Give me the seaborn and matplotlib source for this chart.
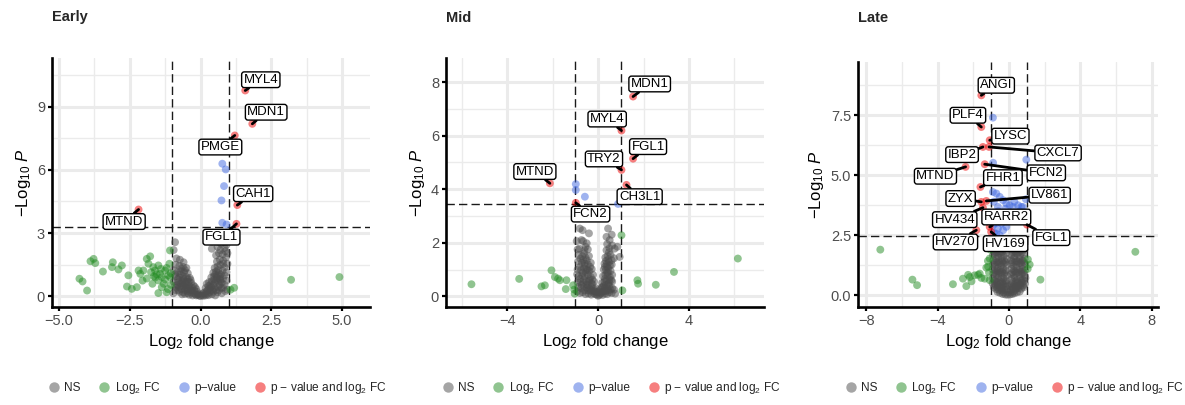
import matplotlib
matplotlib.use("Agg")
import matplotlib.pyplot as plt
from matplotlib.lines import Line2D
import seaborn as sns
import pandas as pd

# ---------------- DATA ----------------
panel_titles = ["Early", "Mid", "Late"]
group_names = ["NS", "Log2 FC", "p-value", "p - value and log2 FC"]

# Early
early_ns = [(0.00,0.02),(0.05,0.06),(-0.05,0.04),(0.10,0.03),(-0.10,0.08),(0.18,0.05),(-0.18,0.10),(0.28,0.06),(-0.28,0.05),(-0.40,0.08),(0.40,0.10),(0.52,0.05),(-0.55,0.12),
    (0.12,0.18),(-0.12,0.22),(0.22,0.25),(-0.22,0.28),(0.32,0.2),(-0.34,0.18),(0.45,0.22),(-0.46,0.25),(0.6,0.2),(-0.62,0.2),(0.75,0.15),(-0.75,0.22),(0.88,0.25),(-0.88,0.3),(0.95,0.32),(-0.96,0.15),
    (0.18,0.4),(-0.2,0.45),(0.28,0.5),(-0.3,0.42),(0.38,0.45),(-0.4,0.5),(0.5,0.4),(-0.52,0.42),(0.62,0.45),(-0.64,0.5),(0.74,0.4),(-0.76,0.45),(0.85,0.55),(-0.9,0.5),
    (0.3,0.68),(-0.33,0.65),(0.4,0.72),(-0.42,0.7),(0.5,0.62),(-0.55,0.62),(0.62,0.7),(-0.68,0.72),(0.75,0.65),(-0.8,0.68),(-0.95,0.7),(0.92,0.75),
    (0.38,0.9),(-0.38,0.88),(0.48,0.95),(-0.5,0.92),(0.58,0.88),(-0.62,0.95),(0.7,0.92),(-0.75,0.9),(-0.88,0.95),(0.85,1.0),
    (0.45,1.12),(-0.45,1.1),(0.55,1.18),(-0.58,1.15),(0.65,1.1),(-0.7,1.2),(0.78,1.22),(-0.82,1.15),(-0.95,1.25),(0.92,1.15),
    (0.5,1.35),(-0.5,1.35),(0.6,1.42),(-0.62,1.4),(0.7,1.5),(-0.75,1.45),(0.85,1.38),(-0.88,1.5),(0.95,1.55),
    (0.58,1.65),(-0.6,1.62),(0.68,1.75),(-0.73,1.74),(0.8,1.7),(0.9,1.85),(-0.85,1.8),
    (0.55,1.95),(0.65,2.05),(0.78,2.0),(0.88,2.15),(0.95,2.05),(-0.95,2.2),
    (0.4,2.26),(0.6,2.35),(0.72,2.5),(0.85,2.3),(0.92,2.45),(-0.9,2.57),(0.7,2.2),
    (-0.15,0.35),(0.25,0.12),(-0.3,0.28),(-0.48,0.35),(-0.68,0.35),(-0.82,0.55),(-0.6,0.78),(-0.45,0.82),(0.55,0.78),(0.68,0.82),(0.45,0.55),(-0.72,1.05),(-0.55,1.25),(0.62,1.25),
    (-0.08,0.12),(0.08,0.14),(-0.15,0.05),(0.15,0.1),(-0.25,0.15),(0.25,0.3),(-0.35,0.3),(0.35,0.32),(-0.45,0.15),(0.42,0.3),(-0.55,0.3),(0.55,0.3),(-0.65,0.1),(0.65,0.3),
    (-0.7,0.6),(0.68,0.55),(-0.85,0.42),(0.8,0.42),(-0.5,0.55),(0.48,0.8),(-0.58,0.5),(0.58,1.0),(-0.65,0.62),(-0.8,0.82),(0.8,0.85),(-0.9,1.05),(0.72,1.05),(-0.68,1.3),
    (0.8,1.55),(-0.78,0.3),(-0.42,0.4),(0.3,0.38),(-0.25,0.52),(0.22,0.6),(-0.35,0.78),(0.35,0.55),(-0.5,0.7),(0.52,1.05),(-0.62,0.85),(0.7,0.75)]
early_fc = [(-4.28,0.84),(-4.17,0.71),(-4.01,0.28),(-3.89,1.67),(-3.78,1.78),(-3.72,1.58),(-3.45,1.18),(-3.10,1.62),(-3.13,1.39),(-2.90,1.28),(-2.78,1.47),(-2.55,1.0),(-2.60,0.47),(-2.43,0.36),(-2.25,0.44),(-2.19,1.23),(-2.13,1.07),(-2.02,1.23),(-1.90,1.78),(-1.84,1.55),(-1.78,1.90),(-1.67,1.39),(-1.61,1.23),(-1.49,1.47),(-1.43,1.07),(-1.49,0.76),(-1.37,0.92),(-1.25,1.23),(-1.14,1.0),(-1.08,0.92),(-1.37,0.44),(-1.49,0.16),(-1.20,0.20),(-1.08,2.18),(-1.3,0.6),(-1.6,0.9),(-1.7,0.6),(-1.9,0.85),(-2.05,0.75),(-1.15,0.35),(-1.05,0.55),(-1.25,0.8),(-1.55,1.05),(-1.2,1.35),(-1.75,1.15),(-1.1,1.55),(-1.4,1.3),(-1.05,1.1),(-1.65,0.95),(1.06,0.32),(1.19,0.41),(3.20,0.79),(4.91,0.92)]
early_p = [(0.77,6.29),(0.89,6.02),(0.83,5.23),(0.74,4.55),(0.77,3.49),(0.92,3.41)]
early_both = [(1.58,9.76),(1.83,8.18),(1.21,7.63),(1.30,4.33),(1.27,3.44),(-2.19,4.12)]
early_genes = ["MYL4","MDN1","PMGE","CAH1","FGL1","MTND"]
early_pcut = 3.28

# Mid
mid_ns = [(0,0.02),(0.06,0.05),(-0.06,0.06),(0.12,0.1),(-0.12,0.08),(0.2,0.05),(-0.2,0.12),(0.3,0.1),(-0.3,0.06),(0.4,0.08),(-0.42,0.1),(0.5,0.15),(-0.55,0.08),(0.6,0.12),(-0.68,0.15),(-0.8,0.12),(-0.92,0.18),(0.75,0.1),
    (0.1,0.25),(-0.1,0.3),(0.2,0.35),(-0.2,0.28),(0.3,0.3),(-0.3,0.35),(0.4,0.32),(-0.4,0.3),(0.5,0.38),(-0.5,0.32),(0.62,0.3),(-0.62,0.35),(-0.75,0.3),(-0.88,0.35),(0.7,0.25),
    (0.18,0.5),(-0.18,0.55),(0.28,0.55),(-0.3,0.5),(0.38,0.6),(-0.4,0.58),(0.48,0.52),(-0.52,0.55),(0.58,0.6),(-0.65,0.5),(-0.78,0.55),(-0.9,0.52),
    (0.22,0.75),(-0.22,0.8),(0.32,0.8),(-0.32,0.72),(0.42,0.78),(-0.45,0.8),(0.52,0.72),(-0.58,0.75),(-0.7,0.78),(-0.85,0.75),(0.62,0.8),
    (0.25,1.0),(-0.28,1.02),(0.35,0.98),(-0.38,0.95),(0.45,1.05),(-0.5,1.0),(0.55,0.95),(-0.62,1.05),(-0.75,0.98),(-0.9,1.0),
    (0.28,1.22),(-0.32,1.25),(0.38,1.2),(-0.45,1.2),(0.48,1.28),(-0.58,1.22),(-0.72,1.25),(0.6,1.18),(-0.88,1.3),
    (0.32,1.45),(-0.4,1.5),(0.42,1.5),(-0.55,1.45),(0.55,1.55),(-0.7,1.5),(-0.85,1.55),(0.7,1.42),
    (0.37,1.72),(-0.45,1.75),(0.5,1.8),(-0.6,1.72),(0.73,1.78),(-0.82,1.78),(0.95,1.47),
    (0.4,1.95),(-0.5,1.98),(0.51,2.1),(-0.66,2.06),(-0.73,2.1),(-0.94,2.06),(0.37,2.22),(0.85,1.85),
    (-0.8,2.53),(-0.68,2.47),(0.44,2.53),(-0.4,2.35),(0.6,2.3),
    (-0.15,0.18),(0.15,0.15),(-0.35,0.2),(0.35,0.2),(-0.6,0.22),(0.55,0.25),(-0.25,0.62),(0.25,0.4),(-0.45,0.42),(0.45,0.45),(-0.55,0.9),(0.4,0.88),(-0.65,1.35),(0.35,1.32),
    (-0.05,0.15),(0.05,0.18),(-0.18,0.2),(0.22,0.18),(-0.28,0.22),(0.3,0.2),(-0.45,0.22),(0.45,0.22),(-0.5,0.45),(0.35,0.42),(-0.72,0.42),(0.5,0.62),(-0.38,0.65),
    (0.3,0.65),(-0.8,0.65),(0.62,0.55),(-0.68,0.88),(0.45,0.9),(-0.45,0.98),(0.52,1.15),(-0.8,1.1),(0.4,1.1),(-0.6,1.15),(-0.5,1.35),(0.45,1.38),(-0.78,1.4),
    (0.6,1.35),(-0.62,1.6),(0.48,1.65),(-0.9,1.75),(-0.55,1.85),(0.62,1.9),(-0.35,1.1),(0.3,1.1),(-0.25,0.45),(0.15,0.32),(-0.62,0.62),(-0.92,0.82)]
mid_fc = [(-5.57,0.45),(-3.47,0.65),(-2.49,0.37),(-2.34,0.41),(-2.05,0.97),(-1.90,0.72),(-1.76,0.66),(-1.68,0.60),(-1.39,0.60),(-1.42,0.27),(-1.1,0.41),(-1.03,0.1),(-1.05,0.25),(1.03,2.28),(1.07,0.22),(1.73,0.60),(1.76,0.47),(2.54,0.43),(3.34,0.91),(6.15,1.41)]
mid_p = [(-0.98,4.19),(-0.98,3.97),(-0.58,3.72),(0.88,3.45)]
mid_both = [(1.54,7.46),(1.03,6.19),(1.54,5.14),(1.03,4.72),(-2.12,4.22),(1.25,4.16),(-0.98,3.49)]
mid_genes = ["MDN1","MYL4","FGL1","TRY2","MTND","CH3L1","FCN2"]
mid_pcut = 3.45

# Late
late_ns = [(-0.5,0.1),(-0.35,0.05),(-0.2,0.03),(-0.08,0.02),(0.05,0.03),(0.18,0.05),(0.3,0.08),(0.45,0.12),(0.6,0.15),(-0.65,0.14),
    (-0.85,0.32),(-0.7,0.25),(-0.55,0.22),(-0.4,0.2),(-0.25,0.22),(-0.12,0.25),(0.1,0.22),(0.22,0.28),(0.38,0.24),(0.52,0.3),(0.68,0.27),(0.82,0.33),
    (-0.92,0.5),(-0.78,0.45),(-0.62,0.42),(-0.48,0.48),(-0.33,0.44),(-0.18,0.5),(0.15,0.46),(0.3,0.42),(0.45,0.5),(0.6,0.45),(0.75,0.52),(0.9,0.48),
    (-0.9,0.7),(-0.75,0.65),(-0.6,0.72),(-0.45,0.66),(-0.3,0.7),(-0.15,0.62),(0.15,0.68),(0.3,0.74),(0.45,0.64),(0.62,0.7),(0.78,0.66),(0.92,0.72),
    (-0.88,0.9),(-0.72,0.85),(-0.58,0.92),(-0.42,0.86),(-0.27,0.9),(-0.12,0.82),(0.12,0.88),(0.28,0.84),(0.42,0.93),(0.58,0.86),(0.72,0.9),(0.88,0.84),
    (-0.92,1.08),(-0.78,1.02),(-0.62,1.12),(-0.48,1.05),(-0.32,1.1),(-0.18,1.04),(0.14,1.1),(0.28,1.03),(0.44,1.12),(0.6,1.06),(0.76,1.1),(0.9,1.04),
    (-0.9,1.28),(-0.75,1.22),(-0.6,1.3),(-0.45,1.24),(-0.3,1.32),(-0.15,1.25),(0.12,1.3),(0.26,1.22),(0.42,1.28),(0.58,1.34),(0.74,1.24),(0.9,1.3),
    (-0.88,1.45),(-0.72,1.52),(-0.58,1.42),(-0.42,1.5),(-0.26,1.44),(-0.12,1.52),(0.12,1.46),(0.28,1.54),(0.44,1.42),(0.6,1.5),(0.75,1.45),(0.88,1.52),
    (-0.9,1.66),(-0.75,1.72),(-0.6,1.62),(-0.45,1.7),(-0.3,1.64),(-0.15,1.74),(0.14,1.68),(0.3,1.62),(0.46,1.72),(0.62,1.66),(0.8,1.7),
    (-0.85,1.85),(-0.68,1.9),(-0.52,1.82),(-0.36,1.92),(-0.2,1.86),(0.16,1.9),(0.32,1.84),(0.5,1.92),(0.66,1.86),(0.85,1.9),
    (-0.8,2.05),(-0.6,2.12),(-0.4,2.02),(-0.22,2.1),(0.2,2.04),(0.38,2.14),(0.55,2.06),(0.72,2.12),
    (-0.8,0.4),(-0.65,0.32),(-0.5,0.35),(-0.35,0.32),(-0.2,0.35),(0.2,0.35),(0.35,0.34),(0.5,0.38),(0.65,0.4),(0.8,0.4),
    (-0.82,0.6),(-0.68,0.55),(-0.52,0.58),(-0.38,0.55),(-0.22,0.58),(0.22,0.56),(0.38,0.58),(0.52,0.55),(0.7,0.6),(0.85,0.6),
    (-0.8,0.95),(-0.65,1.0),(-0.5,0.95),(-0.38,0.98),(-0.22,0.95),(0.2,0.96),(0.35,0.98),(0.52,0.96),(0.68,0.98),(0.82,0.95),
    (-0.82,1.35),(-0.68,1.38),(-0.52,1.36),(-0.38,1.4),(-0.2,1.38),(0.2,1.38),(0.35,1.4),(0.52,1.4),(0.68,1.36),(0.82,1.4),
    (-0.82,1.78),(-0.68,1.8),(-0.52,1.76),(-0.38,1.8),(0.22,1.78),(0.38,1.76),(0.55,1.8),(0.72,1.78),(-0.7,2.0),(-0.5,1.98),(0.3,1.98),(0.62,1.98),
    (-0.1,0.4),(0.08,0.38),(-0.05,0.12),(0.1,0.12),(-0.3,0.12),(0.25,0.15),(-0.45,0.3),(0.42,0.3)]
late_fc = [(-7.21,1.90),(-5.41,0.65),(-5.15,0.42),(-3.14,0.46),(-2.58,0.69),(-2.39,0.38),(-2.2,0.76),(-2.29,0.85),(-2.1,0.58),(-1.92,0.83),(-1.73,0.85),(-1.64,0.90),(-1.55,0.72),(-1.36,0.69),(-1.27,1.15),(-1.17,1.19),(-1.08,0.63),(-1.08,1.53),(-1.18,1.43),(-1.05,1.9),(-1.12,0.95),(1.06,1.49),(1.16,1.28),(1.05,1.1),(1.76,0.65),(7.08,1.81)]
late_p = [(-0.9,7.4),(-0.89,5.52),(0.97,5.65),(-0.71,4.24),(-0.52,4.10),(-0.33,3.96),(-0.15,3.82),(0.04,3.75),(0.22,3.68),(0.51,3.75),(0.69,3.68),(-0.62,3.68),(-0.71,3.40),(-0.52,3.19),(-0.43,2.99),(-0.62,2.78),(-0.33,2.71),(-0.71,2.57),(-0.52,2.5),(-0.80,3.13),(-0.15,2.85),(0.78,3.68),(-0.9,4.3),(-0.85,3.9),(-0.75,3.0),(-0.6,3.5),(-0.4,3.4),(-0.9,2.9),(-0.85,2.6),(0.3,3.9),(0.6,3.5),(-0.2,3.6),(0.95,4.0)]
late_both = [(-1.55,8.33),(-1.55,7.01),(-1.08,6.46),(-1.46,6.18),(-1.12,6.18),(-2.43,5.35),(-1.36,5.46),(-1.60,4.51),(-1.27,3.93),(-1.55,3.89),(-1.46,3.65),(-1.08,2.85),(1.01,2.94),(-1.83,2.71),(-1.0,2.64)]
late_genes = ["ANGI","PLF4","LYSC","IBP2","CXCL7","MTND","FCN2","FHR1","LV861","ZYX","HV434","RARR2","FGL1","HV270","HV169"]
late_pcut = 2.46

fc_cut = 1.0

# ---------------- LAYOUT ----------------
label_pos = {
    "Early": [(2.13,10.27),(2.32,8.73),(0.70,7.08),(1.86,4.87),(0.74,2.81),(-2.70,3.55)],
    "Mid": [(2.27,7.93),(0.40,6.62),(2.20,5.59),(0.26,5.13),(-2.78,4.66),(1.83,3.72),(-0.33,3.07)],
    "Late": [(-0.71,8.75),(-2.30,7.50),(0.08,6.63),(-2.63,5.86),(2.75,5.93),(-4.12,4.96),(2.09,5.10),
             (-0.34,4.90),(2.28,4.17),(-2.71,4.03),(-3.04,3.15),(-0.15,3.26),(2.37,2.40),(-3.0,2.22),(-0.19,2.15)],
}
W, H = 1185, 405
axes_px = {"Early": (52, 58, 370, 307), "Mid": (446, 58, 764, 307), "Late": (858, 62, 1158, 307)}
limits = {
    "Early": dict(xlim=(-5.25, 5.99), ylim=(-0.5, 11.3), xt=[-5, -2.5, 0, 2.5, 5], xfmt="{:.1f}",
                  yt=[0, 3, 6, 9], yfmt="{:.0f}", xm=[-3.75, -1.25, 1.25, 3.75], ym=[1.5, 4.5, 7.5, 10.5]),
    "Mid": dict(xlim=(-6.69, 7.3), ylim=(-0.4, 8.9), xt=[-4, 0, 4], xfmt="{:.0f}",
                yt=[0, 2, 4, 6, 8], yfmt="{:.0f}", xm=[-6, -2, 2, 6], ym=[1, 3, 5, 7]),
    "Late": dict(xlim=(-8.46, 8.35), ylim=(-0.49, 9.72), xt=[-8, -4, 0, 4, 8], xfmt="{:.0f}",
                 yt=[0, 2.5, 5, 7.5], yfmt="{:.1f}", xm=[-6, -2, 2, 6], ym=[1.25, 3.75, 6.25, 8.75]),
}
palette = {"NS": "#4D4D4D", "Log2 FC": "#228B22", "p-value": "#4169E1", "p - value and log2 FC": "#EE0000"}

sns.set_theme(style="white")
plt.rcParams["font.family"] = ["Liberation Sans", "DejaVu Sans"]
plt.rcParams["mathtext.fontset"] = "custom"
plt.rcParams["mathtext.rm"] = "Liberation Sans"
plt.rcParams["mathtext.it"] = "Liberation Sans:italic"
plt.rcParams["mathtext.bf"] = "Liberation Sans:bold"

fig = plt.figure(figsize=(W / 100, H / 100), dpi=100)
fig.patch.set_facecolor("white")

panels = {
    "Early": (early_ns, early_fc, early_p, early_both, early_genes, early_pcut),
    "Mid": (mid_ns, mid_fc, mid_p, mid_both, mid_genes, mid_pcut),
    "Late": (late_ns, late_fc, late_p, late_both, late_genes, late_pcut),
}

legend_labels = ["NS", r"Log$_{2}$ FC", "p\u2212value", r"p $-$ value and log$_{2}$ FC"]

for name in panel_titles:
    ns, fc, pv, both, genes, pcut = panels[name]
    rows = []
    for grp, pts in zip(group_names, [ns, fc, pv, both]):
        for (x, y) in pts:
            rows.append({"x": x, "y": y, "group": grp})
    df = pd.DataFrame(rows)

    l, t, r, b = axes_px[name]
    ax = fig.add_axes([l / W, 1 - b / H, (r - l) / W, (b - t) / H])
    ax.set_facecolor("white")
    lim = limits[name]

    sns.scatterplot(data=df, x="x", y="y", hue="group", hue_order=group_names, palette=palette,
                    alpha=0.5, s=32, linewidth=0, legend=False, ax=ax, zorder=3)

    ax.set_xlim(*lim["xlim"])
    ax.set_ylim(*lim["ylim"])
    ax.set_xticks(lim["xt"])
    ax.set_xticklabels([lim["xfmt"].format(v).replace("-", "\u2212") for v in lim["xt"]])
    ax.set_yticks(lim["yt"])
    ax.set_yticklabels([lim["yfmt"].format(v) for v in lim["yt"]])
    ax.set_xticks(lim["xm"], minor=True)
    ax.set_yticks(lim["ym"], minor=True)
    ax.set_axisbelow(True)
    ax.grid(which="major", color="#EBEBEB", linewidth=2.2)
    ax.grid(which="minor", color="#EBEBEB", linewidth=1.0)
    ax.tick_params(which="major", direction="out", length=3, width=1.6, color="black",
                   labelsize=10.5, labelcolor="#4D4D4D", pad=2, bottom=True, left=True)
    ax.tick_params(which="minor", length=0)
    for side in ["top", "right"]:
        ax.spines[side].set_visible(False)
    for side in ["left", "bottom"]:
        ax.spines[side].set_color("black")
        ax.spines[side].set_linewidth(1.9)

    # cutoff lines
    for xv in (-fc_cut, fc_cut):
        ax.axvline(xv, color="#1a1a1a", linewidth=1.0, linestyle=(0, (6, 3)), zorder=2)
    ax.axhline(pcut, color="#1a1a1a", linewidth=1.0, linestyle=(0, (6, 3)), zorder=2)

    # labels with connectors
    for gene, (px, py), (lx, ly) in zip(genes, both, label_pos[name]):
        ax.annotate(gene, xy=(px, py), xytext=(lx, ly), ha="center", va="center", fontsize=9.5,
                    color="black", zorder=6,
                    bbox=dict(boxstyle="round,pad=0.14,rounding_size=0.2", fc="white", ec="black", lw=1.0),
                    arrowprops=dict(arrowstyle="-", color="black", lw=2.0, shrinkA=0, shrinkB=0))

    ax.set_xlabel(r"Log$_{2}$ fold change", fontsize=12, color="black", labelpad=3)
    ax.set_ylabel(r"$-$Log$_{10}$ $\mathit{P}$", fontsize=12, color="black", labelpad=3)

    fig.text(l / W, 1 - 17.5 / H, name, fontsize=10.5, fontweight="bold", ha="left", va="center")

    handles = [Line2D([], [], marker="o", linestyle="", markersize=7.5, markeredgewidth=0,
                      color=palette[g], alpha=0.5) for g in group_names]
    ax.legend(handles, legend_labels, loc="center", bbox_to_anchor=(0.52, (b - 388) / (b - t)),
              ncol=4, frameon=False, fontsize=8.6, handletextpad=0.35, columnspacing=1.5,
              handlelength=1.0, borderaxespad=0)

fig.savefig("out.png", dpi=100, facecolor="white")
